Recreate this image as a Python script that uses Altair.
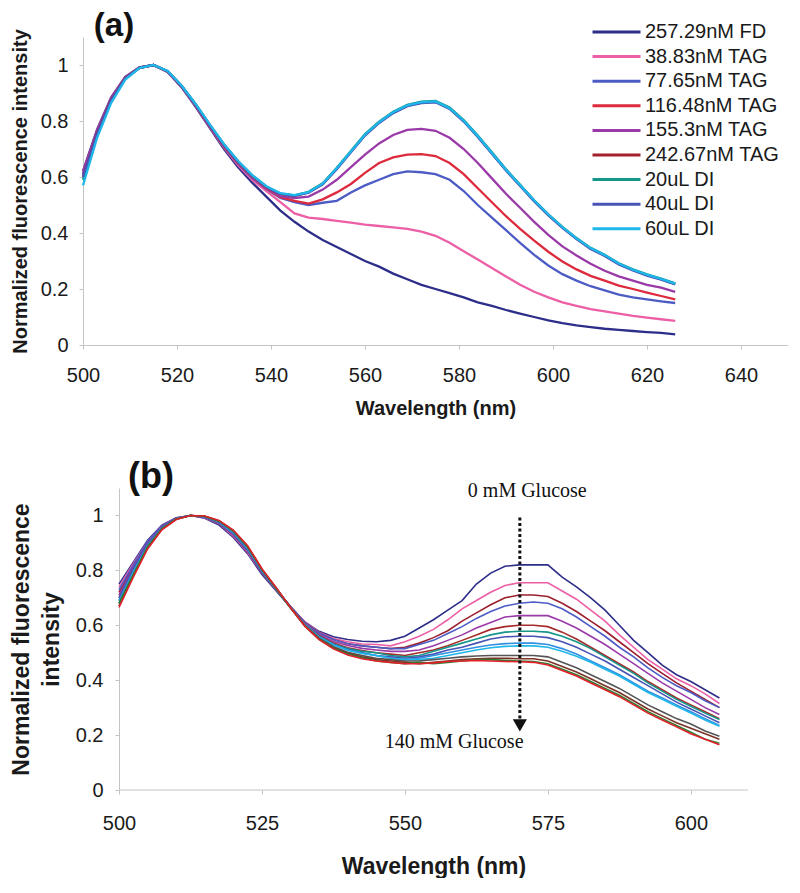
import altair as alt
import pandas as pd

# ---------------- Panel (a) data ----------------
WL_A = [500, 503, 506, 509, 512, 515, 518, 521, 524, 527, 530, 533, 536, 539, 542,
        545, 548, 551, 554, 557, 560, 563, 566, 569, 572, 575, 578, 581, 584, 587,
        590, 593, 596, 599, 602, 605, 608, 611, 614, 617, 620, 623, 626]

A_LABELS = ["257.29nM FD", "38.83nM TAG", "77.65nM TAG", "116.48nM TAG", "155.3nM TAG",
            "242.67nM TAG", "20uL DI", "40uL DI", "60uL DI"]
A_COLORS = ["#2d2d8a", "#ec5fa6", "#4c5cc4", "#dd2a3c", "#9a3aa8",
            "#a3202c", "#149688", "#4753b5", "#1fb6ea"]

A_FD = [0.62, 0.77, 0.885, 0.958, 0.992, 1.0, 0.975, 0.92, 0.85, 0.775, 0.70, 0.635, 0.58, 0.53, 0.48,
        0.44, 0.405, 0.375, 0.35, 0.325, 0.30, 0.28, 0.255, 0.235, 0.215, 0.20, 0.185, 0.17, 0.152, 0.14,
        0.125, 0.112, 0.10, 0.088, 0.078, 0.07, 0.064, 0.058, 0.054, 0.05, 0.046, 0.043, 0.038]
A_T38 = [0.61, 0.765, 0.882, 0.956, 0.991, 1.0, 0.976, 0.921, 0.853, 0.778, 0.705, 0.642, 0.59, 0.55, 0.51,
         0.47, 0.455, 0.45, 0.443, 0.437, 0.43, 0.425, 0.42, 0.415, 0.405, 0.39, 0.365, 0.335, 0.305, 0.275,
         0.245, 0.215, 0.19, 0.17, 0.152, 0.14, 0.128, 0.12, 0.112, 0.104, 0.098, 0.092, 0.086]
A_T77 = [0.61, 0.762, 0.88, 0.955, 0.99, 1.0, 0.976, 0.922, 0.855, 0.78, 0.708, 0.647, 0.597, 0.558, 0.525,
         0.51, 0.50, 0.508, 0.515, 0.545, 0.57, 0.59, 0.61, 0.62, 0.617, 0.61, 0.59, 0.55, 0.50, 0.455,
         0.41, 0.365, 0.322, 0.284, 0.253, 0.23, 0.21, 0.195, 0.18, 0.17, 0.163, 0.156, 0.15]
A_T116 = [0.60, 0.758, 0.878, 0.955, 0.99, 1.0, 0.977, 0.923, 0.856, 0.781, 0.71, 0.65, 0.60, 0.56, 0.528,
          0.515, 0.505, 0.52, 0.545, 0.575, 0.615, 0.65, 0.67, 0.68, 0.682, 0.675, 0.65, 0.61, 0.56, 0.51,
          0.46, 0.415, 0.373, 0.333, 0.298, 0.27, 0.247, 0.23, 0.212, 0.2, 0.187, 0.175, 0.163]
A_T155 = [0.62, 0.765, 0.882, 0.956, 0.991, 1.0, 0.977, 0.923, 0.857, 0.782, 0.712, 0.652, 0.602, 0.562, 0.532,
          0.525, 0.53, 0.555, 0.59, 0.635, 0.68, 0.72, 0.75, 0.768, 0.772, 0.765, 0.74, 0.70, 0.65, 0.595,
          0.54, 0.49, 0.44, 0.393, 0.352, 0.32, 0.29, 0.265, 0.245, 0.23, 0.215, 0.205, 0.19]
A_T242 = [0.60, 0.755, 0.875, 0.952, 0.99, 1.0, 0.978, 0.925, 0.858, 0.785, 0.715, 0.655, 0.605, 0.565, 0.54,
          0.533, 0.545, 0.575, 0.63, 0.69, 0.75, 0.795, 0.83, 0.855, 0.866, 0.869, 0.845, 0.80, 0.745, 0.685,
          0.625, 0.57, 0.515, 0.465, 0.42, 0.38, 0.345, 0.32, 0.29, 0.268, 0.25, 0.235, 0.218]
A_DI20 = [0.59, 0.75, 0.872, 0.951, 0.99, 1.0, 0.978, 0.926, 0.859, 0.786, 0.716, 0.656, 0.606, 0.566, 0.541,
          0.534, 0.547, 0.578, 0.633, 0.693, 0.753, 0.798, 0.833, 0.858, 0.869, 0.872, 0.848, 0.803, 0.748, 0.688,
          0.628, 0.572, 0.517, 0.467, 0.422, 0.382, 0.347, 0.322, 0.292, 0.27, 0.252, 0.237, 0.22]
A_DI40 = [0.60, 0.752, 0.873, 0.951, 0.99, 1.0, 0.978, 0.925, 0.858, 0.785, 0.715, 0.655, 0.605, 0.565, 0.54,
          0.533, 0.544, 0.574, 0.628, 0.688, 0.748, 0.793, 0.828, 0.853, 0.864, 0.867, 0.843, 0.798, 0.743, 0.683,
          0.623, 0.568, 0.513, 0.463, 0.418, 0.378, 0.343, 0.318, 0.288, 0.266, 0.248, 0.233, 0.216]
A_DI60 = [0.57, 0.74, 0.865, 0.948, 0.989, 1.0, 0.979, 0.926, 0.86, 0.787, 0.717, 0.657, 0.607, 0.567, 0.542,
          0.535, 0.546, 0.576, 0.631, 0.691, 0.751, 0.796, 0.831, 0.856, 0.867, 0.87, 0.846, 0.801, 0.746, 0.686,
          0.626, 0.571, 0.516, 0.466, 0.421, 0.381, 0.346, 0.321, 0.291, 0.269, 0.251, 0.236, 0.219]

A_SERIES = [A_FD, A_T38, A_T77, A_T116, A_T155, A_T242, A_DI20, A_DI40, A_DI60]

# ---------------- Panel (b) data ----------------
WL_B = [500, 502.5, 505, 507.5, 510, 512.5, 515, 517.5, 520, 522.5, 525, 527.5, 530, 532.5, 535,
        537.5, 540, 542.5, 545, 547.5, 550, 552.5, 555, 557.5, 560, 562.5, 565, 567.5, 570, 572.5,
        575, 577.5, 580, 582.5, 585, 587.5, 590, 592.5, 595, 597.5, 600, 602.5, 605]

B_NAMES = ["g01", "g02", "g03", "g04", "g05", "g06", "g07", "g08", "g09", "g10", "g11", "g12", "g13", "g14"]
B_COLORS = ["#2d2d8a", "#ec5fa6", "#9c1f2e", "#4c5cc4", "#9a3aa8", "#a52a2a", "#149688",
            "#4753b5", "#2f8fe0", "#1fb6ea", "#555555", "#7a3325", "#2e7d32", "#e3202b"]

B_01 = [0.75, 0.83, 0.91, 0.965, 0.992, 1.0, 0.99, 0.965, 0.92, 0.86, 0.785, 0.725, 0.665, 0.612, 0.578,
        0.558, 0.548, 0.542,
        0.54, 0.545, 0.56, 0.59, 0.62, 0.655, 0.69, 0.75, 0.79, 0.815, 0.82, 0.82, 0.82, 0.775, 0.74,
        0.70, 0.655, 0.60, 0.545, 0.50, 0.455, 0.42, 0.395, 0.365, 0.335]
B_02 = [0.74, 0.825, 0.905, 0.962, 0.99, 1.0, 0.992, 0.97, 0.925, 0.865, 0.79, 0.728, 0.668, 0.612, 0.575,
        0.552, 0.54, 0.532,
        0.53, 0.525, 0.54, 0.56, 0.585, 0.62, 0.66, 0.69, 0.72, 0.745, 0.755, 0.755, 0.755, 0.725, 0.695,
        0.655, 0.615, 0.565, 0.52, 0.475, 0.44, 0.405, 0.38, 0.35, 0.315]
B_03 = [0.72, 0.815, 0.90, 0.96, 0.99, 1.0, 0.994, 0.972, 0.93, 0.87, 0.792, 0.73, 0.668, 0.61, 0.572,
        0.548, 0.533, 0.525,
        0.52, 0.515, 0.52, 0.535, 0.555, 0.58, 0.615, 0.645, 0.675, 0.70, 0.71, 0.71, 0.705, 0.68, 0.65,
        0.615, 0.58, 0.54, 0.50, 0.46, 0.425, 0.39, 0.36, 0.33, 0.30]
B_04 = [0.73, 0.82, 0.905, 0.962, 0.99, 1.0, 0.993, 0.972, 0.93, 0.87, 0.792, 0.73, 0.668, 0.61, 0.572,
        0.548, 0.533, 0.525,
        0.52, 0.515, 0.515, 0.53, 0.545, 0.57, 0.595, 0.625, 0.65, 0.67, 0.68, 0.685, 0.68, 0.66, 0.63,
        0.595, 0.56, 0.52, 0.485, 0.445, 0.41, 0.38, 0.355, 0.325, 0.30]
B_05 = [0.71, 0.81, 0.898, 0.958, 0.99, 1.0, 0.994, 0.973, 0.932, 0.872, 0.794, 0.73, 0.666, 0.606, 0.566,
        0.541, 0.526, 0.516,
        0.51, 0.505, 0.505, 0.51, 0.525, 0.545, 0.565, 0.59, 0.61, 0.63, 0.635, 0.635, 0.635, 0.615, 0.59,
        0.56, 0.53, 0.495, 0.46, 0.425, 0.39, 0.36, 0.33, 0.30, 0.275]
B_06 = [0.70, 0.80, 0.893, 0.955, 0.988, 1.0, 0.995, 0.975, 0.935, 0.875, 0.795, 0.73, 0.665, 0.603, 0.562,
        0.535, 0.518, 0.508,
        0.50, 0.495, 0.49, 0.50, 0.51, 0.525, 0.545, 0.565, 0.585, 0.595, 0.60, 0.60, 0.595, 0.575, 0.55,
        0.52, 0.49, 0.46, 0.43, 0.395, 0.365, 0.335, 0.31, 0.285, 0.26]
B_07 = [0.69, 0.80, 0.892, 0.955, 0.988, 1.0, 0.995, 0.975, 0.935, 0.876, 0.796, 0.73, 0.664, 0.602, 0.56,
        0.532, 0.515, 0.505,
        0.50, 0.49, 0.485, 0.49, 0.505, 0.52, 0.535, 0.55, 0.565, 0.575, 0.578, 0.578, 0.575, 0.56, 0.54,
        0.515, 0.485, 0.455, 0.425, 0.39, 0.36, 0.33, 0.305, 0.28, 0.257]
B_08 = [0.70, 0.805, 0.895, 0.957, 0.989, 1.0, 0.994, 0.974, 0.934, 0.875, 0.795, 0.73, 0.664, 0.601, 0.558,
        0.53, 0.512, 0.50,
        0.49, 0.485, 0.48, 0.485, 0.495, 0.51, 0.52, 0.535, 0.55, 0.558, 0.56, 0.56, 0.555, 0.54, 0.52,
        0.495, 0.47, 0.44, 0.41, 0.38, 0.35, 0.32, 0.295, 0.27, 0.245]
B_09 = [0.69, 0.795, 0.89, 0.954, 0.988, 1.0, 0.995, 0.976, 0.937, 0.878, 0.798, 0.732, 0.665, 0.601, 0.557,
        0.528, 0.51, 0.498,
        0.49, 0.48, 0.475, 0.48, 0.49, 0.50, 0.51, 0.52, 0.528, 0.533, 0.535, 0.535, 0.53, 0.515, 0.495,
        0.47, 0.445, 0.42, 0.39, 0.36, 0.335, 0.31, 0.285, 0.26, 0.235]
B_10 = [0.68, 0.79, 0.888, 0.953, 0.987, 1.0, 0.996, 0.978, 0.94, 0.882, 0.80, 0.735, 0.666, 0.602, 0.557,
        0.528, 0.509, 0.497,
        0.49, 0.48, 0.475, 0.475, 0.48, 0.49, 0.50, 0.51, 0.518, 0.523, 0.525, 0.525, 0.52, 0.505, 0.487,
        0.465, 0.44, 0.415, 0.385, 0.355, 0.33, 0.305, 0.28, 0.255, 0.232]
B_11 = [0.68, 0.785, 0.885, 0.952, 0.987, 1.0, 0.996, 0.979, 0.942, 0.884, 0.802, 0.735, 0.665, 0.60, 0.553,
        0.522, 0.502, 0.49,
        0.48, 0.475, 0.47, 0.47, 0.475, 0.48, 0.485, 0.488, 0.49, 0.49, 0.49, 0.49, 0.485, 0.465, 0.445,
        0.42, 0.395, 0.37, 0.34, 0.31, 0.285, 0.26, 0.24, 0.215, 0.196]
B_12 = [0.67, 0.78, 0.882, 0.95, 0.986, 1.0, 0.997, 0.98, 0.944, 0.886, 0.803, 0.735, 0.664, 0.598, 0.55,
        0.518, 0.498, 0.485,
        0.475, 0.47, 0.465, 0.46, 0.465, 0.47, 0.475, 0.478, 0.48, 0.48, 0.478, 0.478, 0.47, 0.45, 0.43,
        0.405, 0.38, 0.355, 0.325, 0.295, 0.27, 0.245, 0.225, 0.205, 0.185]
B_13 = [0.68, 0.785, 0.885, 0.951, 0.986, 1.0, 0.997, 0.98, 0.944, 0.886, 0.803, 0.734, 0.663, 0.597, 0.549,
        0.516, 0.495, 0.482,
        0.47, 0.465, 0.46, 0.465, 0.46, 0.465, 0.47, 0.475, 0.475, 0.472, 0.47, 0.468, 0.46, 0.44, 0.42,
        0.395, 0.37, 0.345, 0.315, 0.285, 0.26, 0.235, 0.21, 0.185, 0.17]
B_14 = [0.665, 0.775, 0.878, 0.948, 0.985, 1.0, 0.998, 0.982, 0.947, 0.89, 0.806, 0.737, 0.664, 0.597, 0.548,
        0.514, 0.492, 0.478,
        0.47, 0.465, 0.46, 0.46, 0.463, 0.468, 0.47, 0.472, 0.47, 0.468, 0.467, 0.465, 0.455, 0.435, 0.415,
        0.39, 0.365, 0.34, 0.31, 0.28, 0.255, 0.23, 0.205, 0.185, 0.165]

B_SERIES = [B_01, B_02, B_03, B_04, B_05, B_06, B_07, B_08, B_09, B_10, B_11, B_12, B_13, B_14]

# annotation (panel b)
ANN_TEXT = ["0 mM Glucose", "140 mM Glucose"]
ANN_X = [571.4, 558.6]
ANN_Y = [1.069, 0.152]
ARROW_X = [570.1]
ARROW_Y_TOP = [0.993]
ARROW_Y_END = [0.257]
ARROW_HEAD_Y = [0.235]

# axis extents
A_XDOMAIN = [500, 650]
B_XDOMAIN = [500, 610]
Y_DOMAIN = [0, 1.1]

# ---------------- build tables ----------------
rows_a = []
for k, (name, vals) in enumerate(zip(A_LABELS, A_SERIES)):
    for w, v in zip(WL_A, vals):
        rows_a.append({"wl": w, "v": v, "series": name, "k": k})
df_a = pd.DataFrame(rows_a)

rows_b = []
for k, (name, vals) in enumerate(zip(B_NAMES, B_SERIES)):
    for w, v in zip(WL_B, vals):
        rows_b.append({"wl": w, "v": v, "series": name, "k": k})
df_b = pd.DataFrame(rows_b)

SANS = "Liberation Sans"
SERIF = "Liberation Serif"
AXC = "#c4c4c4"
NOFRAME = alt.ViewBackground(stroke="transparent", strokeWidth=0, fill="white")

def axis_common(**kw):
    base = dict(domainColor=AXC, tickColor=AXC, grid=False, labelFont=SANS, labelFontSize=20,
                labelColor="#1a1a1a", titleFont=SANS, titleFontWeight="bold", titleColor="#1a1a1a",
                tickSize=4, labelFlush=False)
    base.update(kw)
    return alt.Axis(**base)

# ---------------- panel (a) ----------------
lines_a = alt.Chart(df_a).mark_line(strokeWidth=2.3).encode(
    x=alt.X("wl:Q", scale=alt.Scale(domain=A_XDOMAIN, nice=False, zero=False),
            axis=axis_common(values=[500, 520, 540, 560, 580, 600, 620, 640], title="Wavelength (nm)",
                             titleFontSize=20, labelPadding=16, titlePadding=13)),
    y=alt.Y("v:Q", scale=alt.Scale(domain=Y_DOMAIN, nice=False),
            axis=axis_common(values=[0, 0.2, 0.4, 0.6, 0.8, 1.0], format="~g",
                             title="Normalized fluorescence intensity", titleFontSize=20,
                             labelPadding=11, titlePadding=10)),
    color=alt.Color("series:N", scale=alt.Scale(domain=A_LABELS, range=A_COLORS),
                    legend=alt.Legend(title=None, orient="none", legendX=508, legendY=-15,
                                      symbolType="stroke", symbolSize=2304, symbolStrokeWidth=3,
                                      clipHeight=20,
                                      labelFont=SANS, labelFontSize=20, labelColor="#1a1a1a",
                                      labelOffset=3, rowPadding=4.6, padding=0)),
    order=alt.Order("k:Q"),
)

tag_a = alt.Chart(pd.DataFrame({"t": ["(a)"]})).mark_text(
    font=SANS, fontSize=33, fontWeight="bold", align="center", baseline="alphabetic", color="#111"
).encode(x=alt.value(31), y=alt.value(-1), text="t:N")

panel_a = alt.layer(lines_a, tag_a).properties(width=705, height=308, view=NOFRAME)

# ---------------- panel (b) ----------------
B_WIDTH = 665
B_SHIFT = 36  # the plot of panel (b) starts this many px right of panel (a)'s
B_LO = B_XDOMAIN[0] - B_SHIFT * (B_XDOMAIN[1] - B_XDOMAIN[0]) / (B_WIDTH - B_SHIFT)

xb = alt.X("wl:Q", scale=alt.Scale(domain=[B_LO, B_XDOMAIN[1]], nice=False, zero=False),
           axis=axis_common(values=[500, 525, 550, 575, 600], title="Wavelength (nm)", domain=False,
                            titleFontSize=23, labelPadding=19, titlePadding=22,
                            titleX=(B_SHIFT + B_WIDTH) / 2))
yb = alt.Y("v:Q", scale=alt.Scale(domain=Y_DOMAIN, nice=False),
           axis=axis_common(values=[0, 0.2, 0.4, 0.6, 0.8, 1.0], format="~g", offset=-B_SHIFT,
                            title=["Normalized fluorescence", "intensity"], titleFontSize=23,
                            titleLineHeight=30, labelPadding=12, titlePadding=12))

lines_b = alt.Chart(df_b).mark_line(strokeWidth=1.6).encode(
    x=xb, y=yb,
    color=alt.Color("series:N", scale=alt.Scale(domain=B_NAMES, range=B_COLORS), legend=None),
    order=alt.Order("k:Q"),
)

xaxis_line = alt.Chart(pd.DataFrame({"x": [B_XDOMAIN[0]], "x2": [B_XDOMAIN[1]], "y": [0]})).mark_rule(
    color=AXC, strokeWidth=1).encode(x="x:Q", x2="x2:Q", y="y:Q")

ann_df = pd.DataFrame({"t": ANN_TEXT, "x": ANN_X, "y": ANN_Y})
ann = alt.Chart(ann_df).mark_text(font=SERIF, fontSize=20, align="center", baseline="alphabetic",
                                  color="#111").encode(x="x:Q", y="y:Q", text="t:N")

arrow_df = pd.DataFrame({"x": ARROW_X, "y": ARROW_Y_TOP, "y2": ARROW_Y_END, "yh": ARROW_HEAD_Y})
arrow_line = alt.Chart(arrow_df).mark_rule(color="#111", strokeWidth=3, strokeDash=[3, 2.5]).encode(
    x="x:Q", y="y:Q", y2="y2:Q")
arrow_head = alt.Chart(arrow_df).mark_point(shape="triangle-down", filled=True, color="#111",
                                            size=200, opacity=1).encode(x="x:Q", y="yh:Q")

tag_b = alt.Chart(pd.DataFrame({"t": ["(b)"]})).mark_text(
    font=SANS, fontSize=36, fontWeight="bold", align="center", baseline="alphabetic", color="#111"
).encode(x=alt.value(68), y=alt.value(0), text="t:N")

panel_b = alt.layer(lines_b, xaxis_line, ann, arrow_line, arrow_head, tag_b).properties(
    width=B_WIDTH, height=302, view=NOFRAME)

chart = alt.vconcat(panel_a, panel_b, spacing=41).resolve_scale(
    color="independent", x="independent", y="independent"
).properties(
    padding={"left": 2, "top": 2, "right": 0, "bottom": 0}
).configure_view(stroke="transparent", strokeWidth=0).configure(background="white")

chart.save("out.html", embed_options={"renderer": "svg", "actions": False})
